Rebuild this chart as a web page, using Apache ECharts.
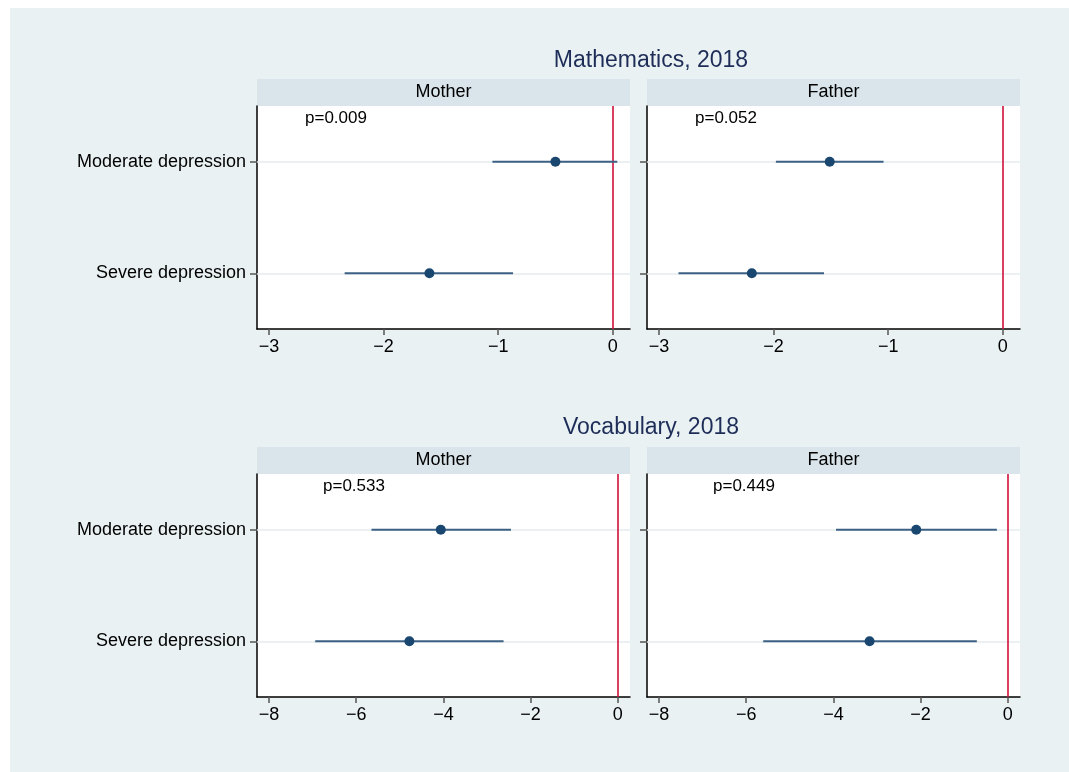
<!DOCTYPE html>
<html>
<head>
<meta charset="utf-8">
<style>
  html, body { margin: 0; padding: 0; background: #ffffff; }
  #chart { width: 1069px; height: 772px; }
</style>
<script src="https://cdn.jsdelivr.net/npm/echarts@6/dist/echarts.min.js"></script>
</head>
<body>
<div id="chart"></div>
<script>
// Depression categories (rows of each panel)
const categories = ['Moderate depression', 'Severe depression'];

// Mathematics, 2018 — point estimates and 95% CI bounds
const mathMotherEst = [-0.50, -1.60];
const mathMotherLo  = [-1.05, -2.34];
const mathMotherHi  = [0.04, -0.87];
const mathFatherEst = [-1.51, -2.19];
const mathFatherLo  = [-1.98, -2.83];
const mathFatherHi  = [-1.04, -1.56];

// Vocabulary, 2018 — point estimates and 95% CI bounds
const vocabMotherEst = [-4.06, -4.78];
const vocabMotherLo  = [-5.65, -6.94];
const vocabMotherHi  = [-2.45, -2.62];
const vocabFatherEst = [-2.10, -3.17];
const vocabFatherLo  = [-3.94, -5.61];
const vocabFatherHi  = [-0.25, -0.71];

// Joint test p-values per panel
const pMathMother = 'p=0.009';
const pMathFather = 'p=0.052';
const pVocabMother = 'p=0.533';
const pVocabFather = 'p=0.449';

// Axis ticks
const mathTicks = [-3, -2, -1, 0];
const vocabTicks = [-8, -6, -4, -2, 0];
const mathRange = [-3.105, 0.151];
const vocabRange = [-8.275, 0.28];

const FONT = '"Liberation Sans", Arial, Helvetica, sans-serif';
const NAVY = '#1a476f';
const CI_COLOR = '#3d6184';
const GRID_LINE = '#e4ecef';
const HEADER_BG = '#d9e5ea';
const RED = '#d0103a';

const panels = [
  { left: 257, top: 106, range: mathRange, ticks: mathTicks, est: mathMotherEst, lo: mathMotherLo, hi: mathMotherHi, p: pMathMother, labels: true, head: 'Mother', pdx: 48 },
  { left: 647, top: 106, range: mathRange, ticks: mathTicks, est: mathFatherEst, lo: mathFatherLo, hi: mathFatherHi, p: pMathFather, labels: false, head: 'Father', pdx: 48 },
  { left: 257, top: 474, range: vocabRange, ticks: vocabTicks, est: vocabMotherEst, lo: vocabMotherLo, hi: vocabMotherHi, p: pVocabMother, labels: true, head: 'Mother', pdx: 66 },
  { left: 647, top: 474, range: vocabRange, ticks: vocabTicks, est: vocabFatherEst, lo: vocabFatherLo, hi: vocabFatherHi, p: pVocabFather, labels: false, head: 'Father', pdx: 66 }
];
const PW = 373, PH = 223, HEAD_H = 27;

const minus = v => String(v).replace('-', '\u2212');

const grid = [], xAxis = [], yAxis = [], series = [], graphic = [];

// white outer margin on top and left
graphic.push({ type: 'rect', shape: { x: 0, y: 0, width: 1069, height: 8 }, style: { fill: '#ffffff' }, silent: true });
graphic.push({ type: 'rect', shape: { x: 0, y: 0, width: 10, height: 772 }, style: { fill: '#ffffff' }, silent: true });

panels.forEach((p, i) => {
  grid.push({ left: p.left, top: p.top, width: PW, height: PH, show: true, backgroundColor: '#ffffff', borderWidth: 0 });
  xAxis.push({
    type: 'value', gridIndex: i, min: p.range[0], max: p.range[1],
    axisLine: { show: true, onZero: false, lineStyle: { color: '#000000', width: 1.5 } },
    axisTick: { show: true, length: 6, customValues: p.ticks, lineStyle: { color: '#555555', width: 1.5 } },
    axisLabel: { customValues: p.ticks, formatter: minus, color: '#000000', fontSize: 18, fontFamily: FONT, margin: 9 },
    splitLine: { show: false }
  });
  yAxis.push({
    type: 'category', gridIndex: i, data: categories, inverse: true,
    axisLine: { show: true, onZero: false, lineStyle: { color: '#000000', width: 1.5 } },
    axisTick: { show: true, length: 7, alignWithLabel: true, lineStyle: { color: '#555555', width: 1.5 } },
    axisLabel: { show: p.labels, color: '#000000', fontSize: 18, fontFamily: FONT, margin: 11 },
    splitLine: { show: false }
  });

  // confidence intervals
  series.push({
    type: 'custom', xAxisIndex: i, yAxisIndex: i, z: 3,
    dimensions: [
      { name: 'lo', type: 'float' },
      { name: 'hi', type: 'float' },
      { name: 'cat', type: 'ordinal' }
    ],
    encode: { x: ['lo', 'hi'], y: 'cat' },
    data: categories.map((c, k) => [p.lo[k], p.hi[k], c]),
    renderItem: (params, api) => {
      const cat = params.dataIndex;
      const a = api.coord([api.value(0), cat]);
      const b = api.coord([api.value(1), cat]);
      return { type: 'line', shape: { x1: a[0], y1: a[1], x2: b[0], y2: b[1] }, style: { stroke: CI_COLOR, lineWidth: 2 } };
    }
  });
  // point estimates, with row guide lines and the zero reference line
  series.push({
    type: 'scatter', xAxisIndex: i, yAxisIndex: i, z: 4,
    symbol: 'circle', symbolSize: 10,
    itemStyle: { color: NAVY, opacity: 1 },
    data: categories.map((c, k) => [p.est[k], c]),
    markLine: {
      silent: true, symbol: 'none', animation: false, label: { show: false }, z: 1,
      data: [
        { yAxis: categories[0], lineStyle: { color: GRID_LINE, width: 1.5, type: 'solid' } },
        { yAxis: categories[1], lineStyle: { color: GRID_LINE, width: 1.5, type: 'solid' } },
        { xAxis: 0, lineStyle: { color: RED, width: 1.6, type: 'solid' } }
      ]
    }
  });

  // panel header strip
  graphic.push({ type: 'rect', shape: { x: p.left, y: p.top - HEAD_H, width: PW, height: HEAD_H }, style: { fill: HEADER_BG }, silent: true });
  graphic.push({ type: 'text', x: p.left + PW / 2, y: p.top - HEAD_H / 2, style: { text: p.head, fill: '#000000', font: '18px ' + FONT, align: 'center', verticalAlign: 'middle' }, silent: true });
  // p-value
  graphic.push({ type: 'text', x: p.left + p.pdx, y: p.top + 12, style: { text: p.p, fill: '#000000', font: '17px ' + FONT, align: 'left', verticalAlign: 'middle' }, silent: true });
});

const chart = echarts.init(document.getElementById('chart'), null, { renderer: 'canvas' });
chart.setOption({
  backgroundColor: '#e9f1f3',
  animation: false,
  title: [
    { text: 'Mathematics, 2018', left: 646, top: 56, textAlign: 'center', textVerticalAlign: 'middle', textStyle: { color: '#1e2d58', fontSize: 23, fontWeight: 'normal', fontFamily: FONT } },
    { text: 'Vocabulary, 2018', left: 646, top: 423, textAlign: 'center', textVerticalAlign: 'middle', textStyle: { color: '#1e2d58', fontSize: 23, fontWeight: 'normal', fontFamily: FONT } }
  ],
  grid, xAxis, yAxis, series, graphic
});
</script>
</body>
</html>
